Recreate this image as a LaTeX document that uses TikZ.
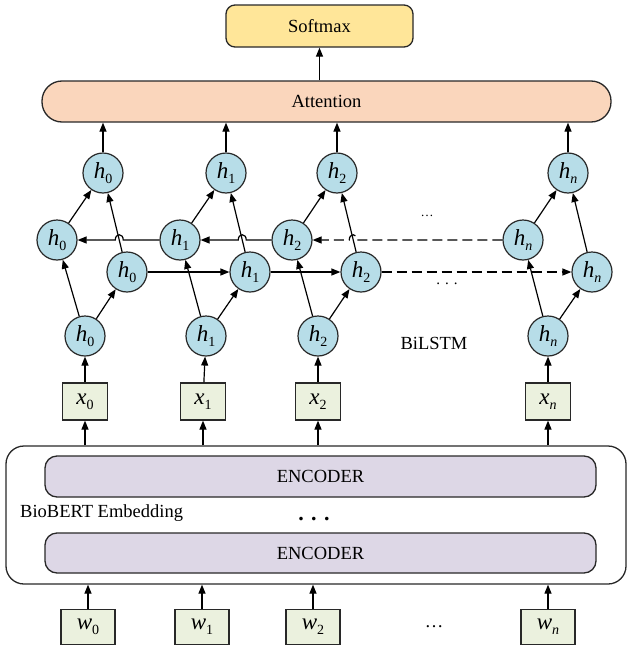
\documentclass[tikz,border=0pt]{standalone}
\usepackage{fontspec}
\setmainfont{Liberation Serif}
\usetikzlibrary{arrows.meta,calc}
\definecolor{hblue}{RGB}{183,221,232}
\definecolor{xgreen}{RGB}{235,241,222}
\definecolor{smyel}{RGB}{255,230,153}
\definecolor{attpeach}{RGB}{250,214,188}
\definecolor{enclav}{RGB}{221,215,230}
\definecolor{edgegray}{RGB}{40,40,40}
\newcommand\lab[2]{{\fontsize{23}{23}\selectfont\itshape #1}\raisebox{-5pt}{\fontsize{14}{14}\selectfont #2}}
\newcommand\txt{\fontsize{18.5}{22}\selectfont}
\tikzset{
  hnode/.style={circle,draw=edgegray,line width=1.2pt,fill=hblue,minimum size=40pt,inner sep=0pt},
  xbox/.style={rectangle,draw=edgegray,line width=1.2pt,fill=xgreen,minimum width=45pt,minimum height=37pt,inner sep=0pt},
  wbox/.style={rectangle,draw=edgegray,line width=1.2pt,fill=xgreen,minimum width=54pt,minimum height=35pt,inner sep=0pt},
  arr/.style={-{Triangle[length=9pt,width=7pt]},line width=1.2pt,black},
  dsh/.style={dash pattern=on 10pt off 5pt},
}
\begin{document}
\begin{tikzpicture}[x=1pt,y=-1pt]
\useasboundingbox (0,0) rectangle (627,648);
% top boxes
\node[draw=edgegray,line width=1.3pt,fill=smyel,rounded corners=9pt,minimum width=187pt,minimum height=42pt,inner sep=0pt] (sm) at (319.5,26) {\txt Softmax};
\node[draw=edgegray,line width=1.3pt,fill=attpeach,rounded corners=20pt,minimum width=569pt,minimum height=41pt,inner sep=0pt] (att) at (326.5,101.5) {\txt Attention};
% embedding
\node[draw=edgegray,line width=1.3pt,fill=white,rounded corners=18pt,minimum width=620pt,minimum height=138pt,inner sep=0pt] (emb) at (316,515) {};
\node[draw=edgegray,line width=1.3pt,fill=enclav,rounded corners=12pt,minimum width=551pt,minimum height=41pt,inner sep=0pt] (enc1) at (320.5,476.5) {\txt ENCODER};
\node[draw=edgegray,line width=1.3pt,fill=enclav,rounded corners=12pt,minimum width=551pt,minimum height=40pt,inner sep=0pt] (enc2) at (320.5,553) {\txt ENCODER};
\node[anchor=west,inner sep=0pt] (bio) at (20,513) {\txt BioBERT Embedding};
\node[inner sep=0pt] (edots) at (314,519) {\fontsize{22}{22}\selectfont\textbf{.\,\,.\,\,.}};
% w boxes
\node[wbox] (w0) at (88,627) {\lab{w}{0}};
\node[wbox] (w1) at (202,627) {\lab{w}{1}};
\node[wbox] (w2) at (313,627) {\lab{w}{2}};
\node[wbox] (wn) at (548,627) {\lab{w}{\itshape n}};
\node[inner sep=0pt] (wdots) at (434,627) {\txt\ldots};
% x boxes
\node[xbox] (x0) at (85,401.5) {\lab{x}{0}};
\node[xbox] (x1) at (203,401.5) {\lab{x}{1}};
\node[xbox] (x2) at (318,401.5) {\lab{x}{2}};
\node[xbox] (xn) at (548,401.5) {\lab{x}{\itshape n}};
% bottom h
\node[hnode] (h0) at (85,336) {\lab{h}{0}};
\node[hnode] (h1) at (206,336) {\lab{h}{1}};
\node[hnode] (h2) at (318,336) {\lab{h}{2}};
\node[hnode] (hn) at (548,336) {\lab{h}{\itshape n}};
% backward
\node[hnode] (b0) at (57,240) {\lab{h}{0}};
\node[hnode] (b1) at (180,240) {\lab{h}{1}};
\node[hnode] (b2) at (292,240) {\lab{h}{2}};
\node[hnode] (bn) at (523,240) {\lab{h}{\itshape n}};
% forward
\node[hnode] (f0) at (127,272) {\lab{h}{0}};
\node[hnode] (f1) at (250,272) {\lab{h}{1}};
\node[hnode] (f2) at (361,272) {\lab{h}{2}};
\node[hnode] (fn) at (592,272) {\lab{h}{\itshape n}};
% top
\node[hnode] (t0) at (103,173) {\lab{h}{0}};
\node[hnode] (t1) at (226,173) {\lab{h}{1}};
\node[hnode] (t2) at (337,173) {\lab{h}{2}};
\node[hnode] (tn) at (568,173) {\lab{h}{\itshape n}};
\node[inner sep=0pt] (bil) at (434,343) {\txt BiLSTM};
\node[inner sep=0pt] (d1) at (427,216) {\fontsize{13}{13}\selectfont\ldots};
\node[inner sep=0pt] (d2) at (447,284) {\fontsize{15}{15}\selectfont.\,\,.\,\,.};
% arrows: w -> embedding
\foreach \w in {w0,w1,w2,wn} \draw[arr] (\w) -- (\w |- emb.south);
% embedding -> x
\foreach \x in {x0,x1,x2,xn} \draw[arr] (\x |- emb.north) -- (\x);
% x -> bottom h
\draw[arr] (x0) -- (h0);
\draw[arr] (x1) -- (h1);
\draw[arr] (x2) -- (h2);
\draw[arr] (xn) -- (hn);
% bottom h -> backward / forward
\draw[arr] (h0) -- (b0); \draw[arr] (h0) -- (f0);
\draw[arr] (h1) -- (b1); \draw[arr] (h1) -- (f1);
\draw[arr] (h2) -- (b2); \draw[arr] (h2) -- (f2);
\draw[arr] (hn) -- (bn); \draw[arr] (hn) -- (fn);
% backward/forward -> top
\draw[arr] (b0) -- (t0); \draw[arr] (f0) -- (t0);
\draw[arr] (b1) -- (t1); \draw[arr] (f1) -- (t1);
\draw[arr] (b2) -- (t2); \draw[arr] (f2) -- (t2);
\draw[arr] (bn) -- (tn); \draw[arr] (fn) -- (tn);
% forward chain
\draw[arr] (f0) -- (f1);
\draw[arr] (f1) -- (f2);
\draw[arr,dsh] (f2) -- (fn);
% crossing points
\coordinate (c0) at ($(f0)!0.323!(t0)$);
\coordinate (c1) at ($(f1)!0.323!(t1)$);
\coordinate (c2) at ($(f2)!0.323!(t2)$);
% backward chain with hops
\draw[arr] (b1.west) -- ($(c0|-b1)+(4,0)$) .. controls +(0,-7) and +(0,-7) .. ($(c0|-b1)+(-4,0)$) -- (b0.east);
\draw[arr] (b2.west) -- ($(c1|-b2)+(4,0)$) .. controls +(0,-7) and +(0,-7) .. ($(c1|-b2)+(-4,0)$) -- (b1.east);
\draw[arr,dsh] (bn.west) -- ($(c2|-bn)+(4,0)$) .. controls +(0,-7) and +(0,-7) .. ($(c2|-bn)+(-4,0)$) -- (b2.east);
% top -> attention -> softmax
\foreach \t in {t0,t1,t2,tn} \draw[arr] (\t) -- (\t |- att.south);
\draw[arr] (att.north -| sm.south) -- (sm.south);
\end{tikzpicture}
\end{document}
